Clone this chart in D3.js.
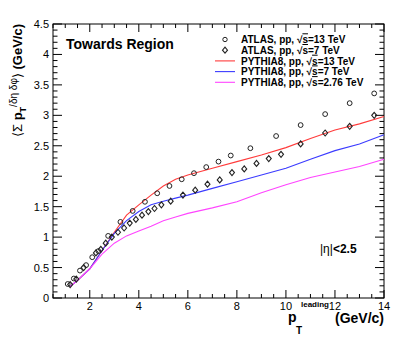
<!DOCTYPE html>
<html>
<head>
<meta charset="utf-8">
<script src="https://cdn.jsdelivr.net/npm/d3@7"></script>
<style>
  body { margin: 0; background: #fff; }
  text { font-family: 'Liberation Sans', Arial, sans-serif; }
</style>
</head>
<body>
<div id="chart"></div>
<script>
// ATLAS points
const atlas13X = [1.1, 1.35, 1.6, 1.85, 2.1, 2.35, 2.75, 3.25, 3.75, 4.25, 4.75, 5.25, 5.75, 6.25, 6.75, 7.25, 7.75, 8.55, 9.6, 10.6, 11.6, 12.6, 13.6];
const atlas13Y = [0.23, 0.32, 0.45, 0.54, 0.67, 0.77, 1.02, 1.25, 1.43, 1.58, 1.72, 1.84, 1.95, 2.05, 2.15, 2.24, 2.34, 2.46, 2.66, 2.84, 3.02, 3.2, 3.36];
const atlas7X = [1.2, 1.45, 1.75, 2.25, 2.45, 2.65, 2.9, 3.15, 3.4, 3.63, 3.88, 4.13, 4.39, 4.64, 4.92, 5.3, 5.8, 6.3, 6.8, 7.3, 7.8, 8.3, 8.8, 9.3, 9.8, 10.6, 11.6, 12.6, 13.6];
const atlas7Y = [0.22, 0.31, 0.5, 0.74, 0.8, 0.9, 1.0, 1.08, 1.15, 1.23, 1.29, 1.36, 1.42, 1.47, 1.53, 1.59, 1.69, 1.77, 1.87, 1.94, 2.06, 2.12, 2.21, 2.29, 2.36, 2.53, 2.71, 2.82, 3.0];

// PYTHIA8 curves
const pyX = [1.2, 1.5, 2.0, 2.5, 3.0, 3.5, 4.0, 4.5, 5.0, 5.5, 6.0, 7.0, 8.0, 9.0, 10.0, 11.0, 12.0, 13.0, 14.0];
const py13 = [0.19, 0.29, 0.48, 0.78, 1.08, 1.36, 1.53, 1.69, 1.84, 1.95, 2.02, 2.13, 2.24, 2.35, 2.47, 2.62, 2.76, 2.86, 2.98];
const py7 = [0.19, 0.29, 0.48, 0.78, 1.06, 1.27, 1.42, 1.53, 1.59, 1.64, 1.69, 1.80, 1.91, 2.02, 2.13, 2.28, 2.42, 2.53, 2.68];
const py276 = [0.19, 0.29, 0.48, 0.72, 0.90, 1.02, 1.10, 1.18, 1.27, 1.33, 1.39, 1.48, 1.58, 1.73, 1.86, 1.98, 2.07, 2.16, 2.28];

const xTicks = [2, 4, 6, 8, 10, 12, 14];
const yTicks = [0, 0.5, 1, 1.5, 2, 2.5, 3, 3.5, 4, 4.5];

const W = 415, H = 344;
const L = 53, R = 384, T = 24, B = 298;

const svg = d3.select('#chart').append('svg')
    .attr('width', W)
    .attr('height', H);

const x = d3.scaleLinear().domain([0.5, 14]).range([L, R]);
const y = d3.scaleLinear().domain([0, 4.5]).range([B, T]);

// frame
svg.append('rect')
    .attr('x', L).attr('y', T)
    .attr('width', R - L).attr('height', B - T)
    .attr('fill', 'none').attr('stroke', '#000').attr('stroke-width', 1);

// ticks
const xMinor = d3.range(0.5, 14.01, 0.5);
const yMinor = d3.range(0, 4.501, 0.1);
const tk = svg.append('g').attr('stroke', '#000').attr('stroke-width', 1);
xMinor.forEach(v => {
  const len = xTicks.includes(v) ? 8 : 4;
  tk.append('line').attr('x1', x(v)).attr('x2', x(v)).attr('y1', B).attr('y2', B - len);
  tk.append('line').attr('x1', x(v)).attr('x2', x(v)).attr('y1', T).attr('y2', T + len);
});
yMinor.forEach(v => {
  const major = Math.abs(v * 2 - Math.round(v * 2)) < 1e-6;
  const len = major ? 9 : 4.5;
  tk.append('line').attr('x1', L).attr('x2', L + len).attr('y1', y(v)).attr('y2', y(v));
  tk.append('line').attr('x1', R).attr('x2', R - len).attr('y1', y(v)).attr('y2', y(v));
});

// tick labels
svg.append('g').selectAll('text')
  .data(xTicks)
  .join('text')
    .attr('x', d => x(d))
    .attr('y', 310)
    .attr('text-anchor', 'middle')
    .attr('font-size', '11px')
    .text(d => d);

svg.append('g').selectAll('text')
  .data(yTicks)
  .join('text')
    .attr('x', 49)
    .attr('y', d => y(d) + 4)
    .attr('text-anchor', 'end')
    .attr('font-size', '11px')
    .text(d => d);

// PYTHIA lines
const line = d3.line().x(d => x(d[0])).y(d => y(d[1]));
[[py13, '#ff3b3b'], [py7, '#3b3bff'], [py276, '#ff44ff']].forEach(([vals, col]) => {
  svg.append('path')
      .datum(pyX.map((v, i) => [v, vals[i]]))
      .attr('d', line)
      .attr('fill', 'none')
      .attr('stroke', col)
      .attr('stroke-width', 1.1);
});

// ATLAS markers
svg.append('g').selectAll('circle')
  .data(atlas13X.map((v, i) => [v, atlas13Y[i]]))
  .join('circle')
    .attr('cx', d => x(d[0]))
    .attr('cy', d => y(d[1]))
    .attr('r', 2.4)
    .attr('fill', 'none')
    .attr('stroke', '#222')
    .attr('stroke-width', 1);

const diamond = (cx, cy) => `M${cx},${cy - 3}L${cx + 2.5},${cy}L${cx},${cy + 3}L${cx - 2.5},${cy}Z`;
svg.append('g').selectAll('path')
  .data(atlas7X.map((v, i) => [v, atlas7Y[i]]))
  .join('path')
    .attr('d', d => diamond(x(d[0]), y(d[1])))
    .attr('fill', 'none')
    .attr('stroke', '#222')
    .attr('stroke-width', 1.1);

// text labels
svg.append('text')
    .attr('x', 66).attr('y', 49)
    .attr('font-size', '14px').attr('font-weight', 'bold')
    .text('Towards Region');

const eta = svg.append('text')
    .attr('x', 320).attr('y', 253)
    .attr('font-size', '12px');
eta.append('tspan').text('|η|');
eta.append('tspan').attr('font-weight', 'bold').text('<2.5');

// legend
const legend = [
  {type: 'circle', label: '13 TeV', name: 'ATLAS'},
  {type: 'diamond', label: '7 TeV', name: 'ATLAS'},
  {type: 'line', color: '#ff3b3b', label: '13 TeV', name: 'PYTHIA8'},
  {type: 'line', color: '#3b3bff', label: '7 TeV', name: 'PYTHIA8'},
  {type: 'line', color: '#ff44ff', label: '2.76 TeV', name: 'PYTHIA8'}
];
legend.forEach((d, i) => {
  const ly = 39.5 + i * 10.7;
  if (d.type === 'circle') {
    svg.append('circle').attr('cx', 225).attr('cy', ly).attr('r', 2.2)
        .attr('fill', 'none').attr('stroke', '#222').attr('stroke-width', 1);
  } else if (d.type === 'diamond') {
    svg.append('path').attr('d', diamond(225, ly))
        .attr('fill', 'none').attr('stroke', '#222').attr('stroke-width', 1.1);
  } else {
    svg.append('line').attr('x1', 215).attr('x2', 235).attr('y1', ly).attr('y2', ly)
        .attr('stroke', d.color).attr('stroke-width', 1.1);
  }
  const t = svg.append('text')
      .attr('x', 241).attr('y', ly + 3.8)
      .attr('font-size', '10px').attr('font-weight', 'bold');
  t.append('tspan').text(d.name + ', pp, √');
  t.append('tspan').attr('text-decoration', 'overline').text('s');
  t.append('tspan').text('=' + d.label);
});

// axis titles
const xt = svg.append('g').attr('font-weight', 'bold');
xt.append('text').attr('x', 288).attr('y', 322).attr('font-size', '14px').text('p');
xt.append('text').attr('x', 296).attr('y', 334).attr('font-size', '10px').text('T');
xt.append('text').attr('x', 301).attr('y', 307).attr('font-size', '8px').text('leading');
xt.append('text').attr('x', R).attr('y', 323).attr('text-anchor', 'end')
    .attr('font-size', '14px').text('(GeV/c)');

const yt = svg.append('text')
    .attr('transform', 'translate(22,24) rotate(-90)')
    .attr('text-anchor', 'end')
    .attr('font-size', '13px').attr('font-weight', 'bold');
yt.append('tspan').attr('font-weight', 'normal').text('⟨Σ ');
yt.append('tspan').text('p');
yt.append('tspan').attr('font-size', '9px').attr('dy', 4).text('T');
yt.append('tspan').attr('font-size', '10px').attr('font-weight', 'normal').attr('dy', -9).text('/δη δφ');
yt.append('tspan').attr('font-weight', 'normal').attr('dy', 5).text('⟩');
yt.append('tspan').text(' (GeV/c)');
</script>
</body>
</html>
